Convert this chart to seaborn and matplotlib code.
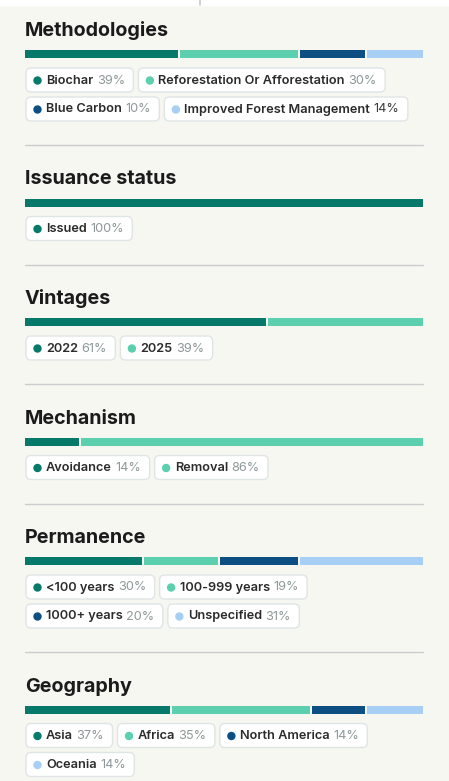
import numpy as np
import matplotlib
matplotlib.use("Agg")
import matplotlib.pyplot as plt
import seaborn as sns
from matplotlib.patches import FancyBboxPatch, Circle

# --- data ---
titles = ["Methodologies", "Issuance status", "Vintages", "Mechanism", "Permanence", "Geography"]

methodologies = ["Biochar", "Reforestation Or Afforestation", "Blue Carbon", "Improved Forest Management"]
methodologies_share = [39, 30, 17, 14]
methodologies_pct = ["39%", "30%", "10%", "14%"]

issuance = ["Issued"]
issuance_share = [100]
issuance_pct = ["100%"]

vintages = ["2022", "2025"]
vintages_share = [61, 39]
vintages_pct = ["61%", "39%"]

mechanism = ["Avoidance", "Removal"]
mechanism_share = [14, 86]
mechanism_pct = ["14%", "86%"]

permanence = ["<100 years", "100-999 years", "1000+ years", "Unspecified"]
permanence_share = [30, 19, 20, 31]
permanence_pct = ["30%", "19%", "20%", "31%"]

geography = ["Asia", "Africa", "North America", "Oceania"]
geography_share = [37, 35, 14, 14]
geography_pct = ["37%", "35%", "14%", "14%"]

# which chips go on which row
rows = [[2, 2], [1], [2], [2], [2, 2], [3, 1]]

sections = [
    (methodologies, methodologies_share, methodologies_pct),
    (issuance, issuance_share, issuance_pct),
    (vintages, vintages_share, vintages_pct),
    (mechanism, mechanism_share, mechanism_pct),
    (permanence, permanence_share, permanence_pct),
    (geography, geography_share, geography_pct),
]

palette = sns.color_palette(["#07796a", "#5ccfae", "#0d4f83", "#a7cff6"])
BG = "#f7f7f2"

sns.set_theme(style="white")
plt.rcParams["font.family"] = ["Inter", "DejaVu Sans"]

W, H = 449, 781
fig = plt.figure(figsize=(W / 100, H / 100), dpi=100, facecolor=BG)
ax = fig.add_axes([0, 0, 1, 1])
ax.set_xlim(0, W)
ax.set_ylim(H, 0)
ax.set_facecolor(BG)
ax.axis("off")

# white strip at the very top
ax.axhspan(0, 5, color="white", zorder=0)
ax.plot([200, 200], [0, 5], color="#c9c9c9", lw=1.2)

fig.canvas.draw()
renderer = fig.canvas.get_renderer()


def text_w(t):
    return t.get_window_extent(renderer=renderer).width


x0, x1 = 25, 423
scale = (x1 - x0) / 100
bar_y = 54
chip_h = 24
row_gap = 29
fs = 9.2

for i, (title, (cats, share, pct)) in enumerate(zip(titles, sections)):
    ax.text(x0, bar_y - 18, title, fontsize=14.2, fontweight="bold",
            color="#1b1b1b", va="baseline", ha="left")

    share = np.array(share, dtype=float)
    lefts = x0 + np.concatenate([[0], np.cumsum(share)[:-1]]) * scale
    widths = share * scale - (2 if len(share) > 1 else 0)
    widths[-1] = share[-1] * scale
    ax.barh([bar_y] * len(share), widths, left=lefts, height=8,
            color=palette[:len(share)], linewidth=0)

    # chips
    k = 0
    cy = bar_y + 26
    for r, n in enumerate(rows[i]):
        cx = x0 + 1
        for j in range(n):
            c = k + j
            lab = ax.text(cx + 20, cy + 0.5, cats[c], fontsize=fs, fontweight="semibold",
                          color="#2b2b2b", va="center", ha="left", zorder=4)
            lw_ = text_w(lab)
            pcol = "#3a3a3a" if (i == 0 and c == 3) else "#8e9898"
            p = ax.text(cx + 20 + lw_ + 3.5, cy + 0.5, pct[c], fontsize=fs,
                        color=pcol, va="center", ha="left", zorder=4)
            pw = text_w(p)
            cw = 20 + lw_ + 3.5 + pw + 8.5
            box = FancyBboxPatch((cx, cy - chip_h / 2), cw, chip_h,
                                 boxstyle="round,pad=0,rounding_size=5",
                                 fc="white", ec="#dfe5e4", lw=1.0, zorder=2)
            ax.add_patch(box)
            ax.add_patch(Circle((cx + 11.5, cy + 0.5), 3.5, color=palette[c], zorder=3))
            cx += cw + 5
        k += n
        if r < len(rows[i]) - 1:
            cy += row_gap

    sep_y = cy + 36
    if i < len(titles) - 1:
        ax.plot([x0, x1], [sep_y, sep_y], color="#c9cdcd", lw=1.0)
    bar_y = sep_y + 57.5

fig.savefig("out.png", dpi=100, facecolor=BG)
